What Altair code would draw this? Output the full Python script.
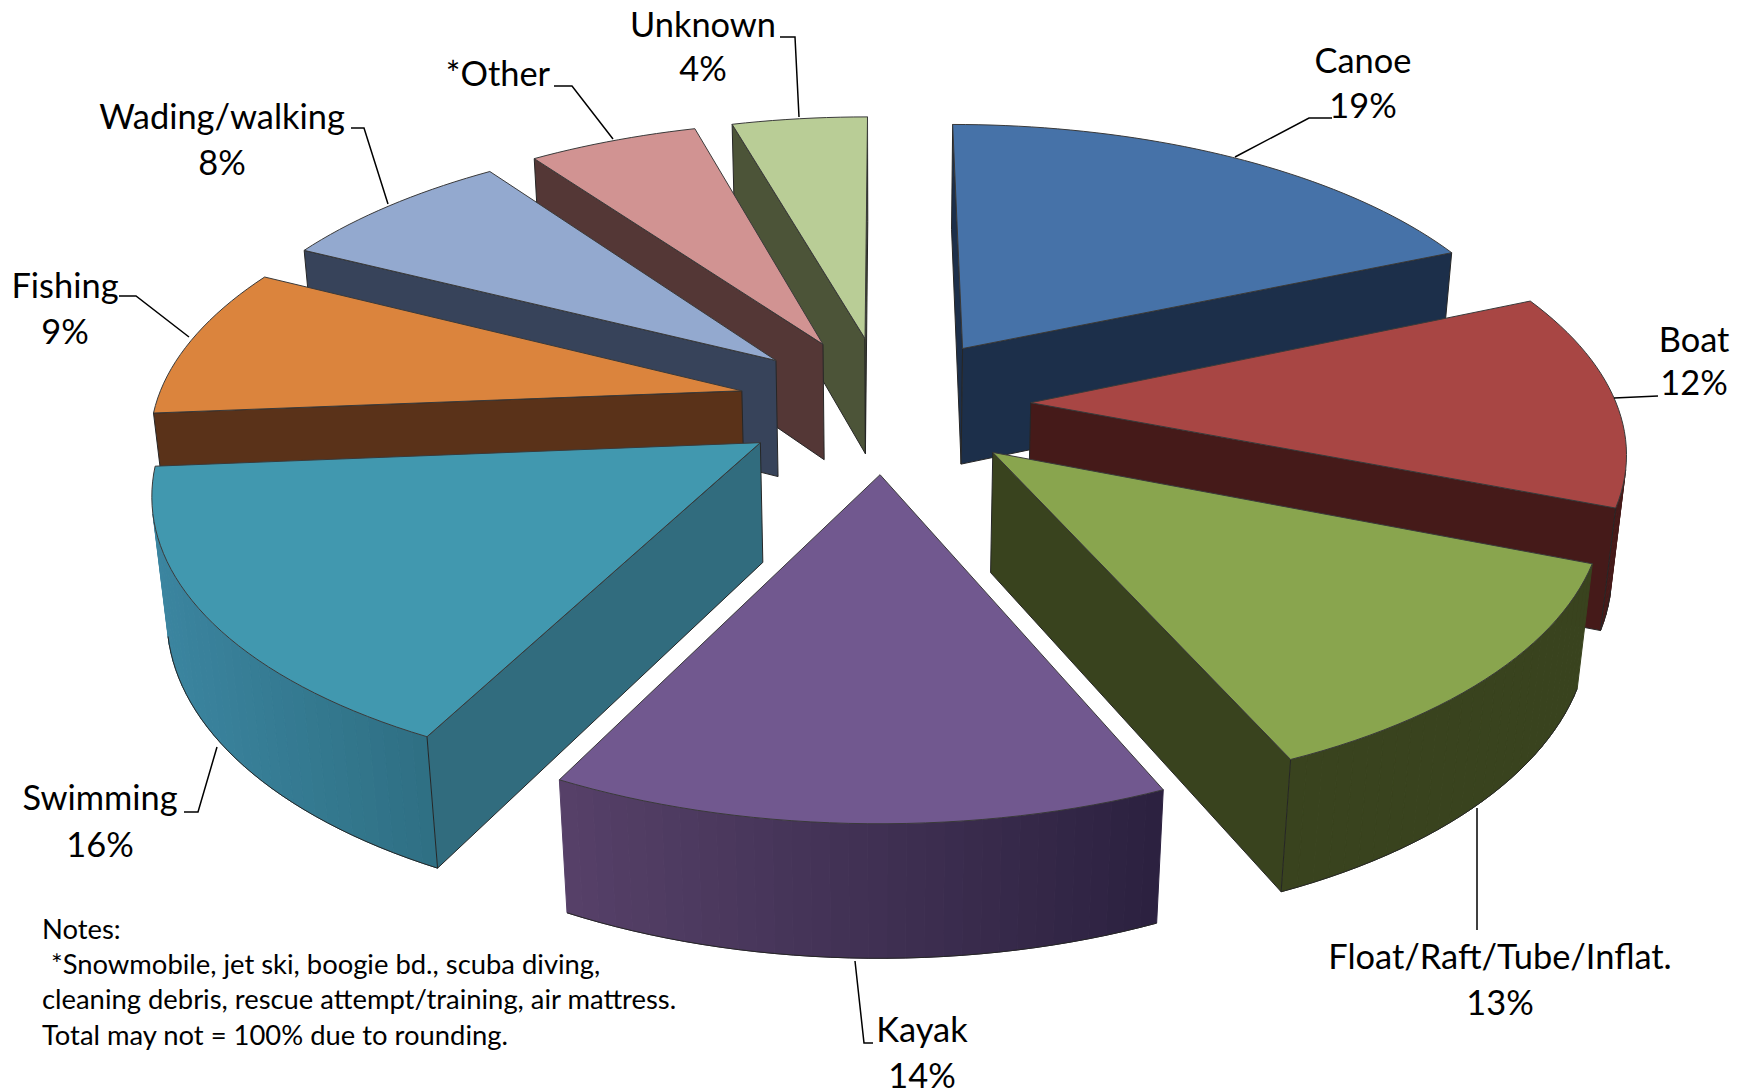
import math
import altair as alt
import pandas as pd

# ---- data (unrounded shares fit the drawn slice angles) ----
names = ["Canoe", "Boat", "Float/Raft/Tube/Inflat.", "Kayak", "Swimming", "Fishing",
         "Wading/walking", "*Other", "Unknown"]
shares = [18.54, 12.41, 12.5, 14.03, 16.22, 8.75, 7.65, 5.5, 4.4]
pct_labels = ["19%", "12%", "13%", "14%", "16%", "9%", "8%", "", "4%"]
top_colors = ["#4672A8", "#A84644", "#89A54E", "#71588F", "#4198AF", "#DB843D",
              "#93A9CF", "#D19392", "#B9CD96"]
wall_colors = ["#1C2F4A", "#451A19", "#39431E", "#3E2F55", "#316C7E", "#5A3219",
               "#37435A", "#543736", "#4C5438"]
rim_left = ["#1C2F4A", "#451A19", "#39431E", "#574169", "#3B85A0", "#5A3219",
            "#37435A", "#543736", "#4C5438"]
rim_right = ["#1C2F4A", "#451A19", "#39431E", "#2C2140", "#2F7084", "#5A3219",
             "#37435A", "#543736", "#4C5438"]
paint_order = [8, 7, 6, 5, 0, 1, 4, 2, 3]

label_font = "Lato"
label_size = 34.4
notes_size = 27.4
note_lines = ["Notes:", "*Snowmobile, jet ski, boogie bd., scuba diving,",
              "cleaning debris, rescue attempt/training, air mattress.",
              "Total may not = 100% due to rounding."]
note_xs = [42, 51, 42, 42]
note_ys = [931, 966, 1001, 1037]
name_pos = [(1363, 63), (1694, 342), (1500, 959), (922, 1032), (100, 800), (65, 288),
            (222, 119), (498, 76), (703, 27)]
pct_pos = [(1363, 108), (1694, 385), (1500, 1005), (922, 1078), (100, 847), (65, 334),
           (222, 165), (498, 76), (703, 71)]
leaders = [
    [(1235, 157), (1309, 118), (1332, 118)],
    [(1614, 398), (1658, 396)],
    [(1477, 808), (1477, 930)],
    [(855, 961), (864, 1043), (873, 1043)],
    [(217, 747), (198, 812), (184, 812)],
    [(189, 337), (136, 296), (119, 296)],
    [(388, 204), (364, 128), (351, 128)],
    [(613, 139), (572, 86), (554, 86)],
    [(799, 117), (795, 37), (780, 37)],
]

# ---- perspective view of the exploded pie ----
W, H = 1732, 1083
CX, CY, A, B, DEPTH = 884.5, 403.8, 585.6, 273.0, 120.4
K, M, EXPLODE = 0.15, 0.02, 0.25


def view(u, v, z):
    w = 1 + K * v + M * z
    return [CX - 8 + A * u / w, CY - 8 + (-B * v + DEPTH * z) / w]


def lerp_color(a, b, t):
    ca = [int(a[i:i + 2], 16) for i in (1, 3, 5)]
    cb = [int(b[i:i + 2], 16) for i in (1, 3, 5)]
    return "#%02x%02x%02x" % tuple(round(x + (y - x) * t) for x, y in zip(ca, cb))


def area(p):
    return sum(p[i][0] * p[(i + 1) % len(p)][1] - p[(i + 1) % len(p)][0] * p[i][1]
               for i in range(len(p)))


def poly(points, fill, stroke, sw):
    return {"type": "Feature",
            "geometry": {"type": "Polygon", "coordinates": [points + [points[0]]]},
            "properties": {"fill": fill, "stroke": stroke, "sw": sw}}


def path(points, stroke, sw):
    return {"type": "Feature",
            "geometry": {"type": "LineString", "coordinates": points},
            "properties": {"fill": "transparent", "stroke": stroke, "sw": sw}}


features = [poly([[0, 0], [W, 0], [W, H], [0, H]], "transparent", "transparent", 0)]

total = sum(shares)
edges = [0.0]
for s in shares:
    edges.append(edges[-1] + s / total * 2 * math.pi)

EDGE = "#262626"
for i in paint_order:
    t0, t1 = edges[i], edges[i + 1]
    mid = (t0 + t1) / 2
    ou, ov = EXPLODE * math.sin(mid), EXPLODE * math.cos(mid)
    n = max(8, int((t1 - t0) / math.radians(1.5)))
    ts = [t0 + (t1 - t0) * j / n for j in range(n + 1)]
    top = [view(ou + math.sin(t), ov + math.cos(t), 0) for t in ts]
    bot = [view(ou + math.sin(t), ov + math.cos(t), 1) for t in ts]
    apex_t, apex_b = view(ou, ov, 0), view(ou, ov, 1)

    # outer wall, one quad per arc step
    xs = [p[0] for p in top]
    lo, hi = min(xs), max(xs)
    visible = []
    for j in range(n):
        q = [top[j], top[j + 1], bot[j + 1], bot[j]]
        if area(q) < 0:
            c = lerp_color(rim_left[i], rim_right[i], (top[j][0] - lo) / max(hi - lo, 1))
            features.append(poly(q, c, c, 1))
            visible.append(j)
    if visible:
        features.append(path([bot[j] for j in visible] + [bot[visible[-1] + 1]], EDGE, 1))

    # radial walls, only where they face the viewer
    wall_a = [apex_t, top[0], bot[0], apex_b]
    wall_b = [top[-1], apex_t, apex_b, bot[-1]]
    for q in (wall_a, wall_b):
        if area(q) < 0:
            features.append(poly(q, wall_colors[i], EDGE, 1))

    # top face
    features.append(poly([apex_t] + top, top_colors[i], "#3a3a3a", 1))

for line in leaders:
    features.append(path([[x - 8, y - 8] for x, y in line], "#000000", 1.5))

proj = dict(type="identity")

shapes = alt.Chart(alt.Data(values=features)).mark_geoshape().encode(
    fill=alt.Fill("properties.fill:N", scale=None),
    stroke=alt.Stroke("properties.stroke:N", scale=None),
    strokeWidth=alt.StrokeWidth("properties.sw:Q", scale=None),
).project(**proj)

labels = pd.DataFrame(
    [{"t": nm, "x": p[0] - 8, "y": p[1] - 8} for nm, p in zip(names, name_pos)]
    + [{"t": pc, "x": p[0] - 8, "y": p[1] - 8} for pc, p in zip(pct_labels, pct_pos) if pc]
)
label_text = alt.Chart(labels).mark_text(
    font=label_font, fontSize=label_size, color="#000000", align="center", baseline="middle"
).encode(longitude="x:Q", latitude="y:Q", text="t:N").project(**proj)

notes = pd.DataFrame({"t": note_lines, "x": [x - 8 for x in note_xs],
                      "y": [y - 8 for y in note_ys]})
notes_text = alt.Chart(notes).mark_text(
    font=label_font, fontSize=notes_size, color="#000000", align="left", baseline="middle"
).encode(longitude="x:Q", latitude="y:Q", text="t:N").project(**proj)

chart = alt.layer(shapes, label_text, notes_text).properties(
    width=W, height=H, padding=0, background="white"
).configure_view(stroke=None)

chart.save("out.html", embed_options={"renderer": "svg", "actions": False})
